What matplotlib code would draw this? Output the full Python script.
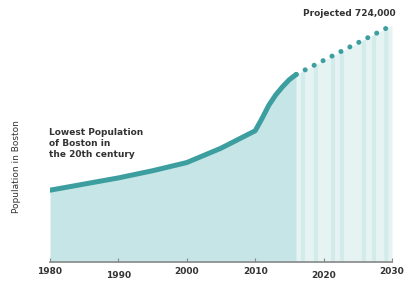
import numpy as np
import matplotlib.pyplot as plt

# Boston population (thousands)
years = [1980, 1985, 1990, 1995, 2000, 2005, 2010, 2011, 2012, 2013, 2014, 2015, 2016]
population = [563, 569, 575, 582, 590, 604, 621, 633, 646, 656, 664, 671, 676]

proj_years = [2016, 2030]
proj_population = [676, 724]

tick_years = [1980, 1990, 2000, 2010, 2020, 2030]
stripe_years = [2016.6, 2018.5, 2021, 2022.3, 2025.5, 2027, 2028.8]

line_color = '#3d9e9f'
fill_color = '#c6e5e6'
text_color = '#333333'


def main():
    fig = plt.figure(figsize=(4.1, 2.81), dpi=100)
    ax = fig.add_axes([0.122, 0.068, 0.834, 0.893])

    ax.fill_between(years, population, 493, color=fill_color, lw=0, zorder=1)
    ax.fill_between(proj_years, proj_population, 493, color='#e6f3f3', lw=0, zorder=1)
    for y in stripe_years:
        xs = [y, y + 0.6]
        ax.fill_between(xs, np.interp(xs, proj_years, proj_population), 493,
                        color='#d3ebeb', lw=0, zorder=1.5)

    ax.plot(years, population, color=line_color, lw=3.6, solid_capstyle='round',
            solid_joinstyle='round', zorder=3)
    ax.plot(proj_years, proj_population, color=line_color, lw=3.6,
            linestyle=(0, (0.01, 2.0)), dash_capstyle='round', zorder=3)

    ax.set_xlim(1980, 2030)
    ax.set_ylim(493, 738)

    for side in ['top', 'right', 'left']:
        ax.spines[side].set_visible(False)
    ax.spines['bottom'].set_color('#888888')
    ax.spines['bottom'].set_linewidth(1.2)
    ax.set_yticks([])
    ax.set_xticks(tick_years)
    ax.set_xticklabels([str(y) for y in tick_years], fontsize=6.5,
                       fontweight='bold', color=text_color)
    ax.tick_params(axis='x', direction='in', length=3, color='#888888', pad=4)
    for i in [1, 4]:
        ax.xaxis.get_major_ticks()[i].set_pad(6.5)

    ax.set_ylabel('Population in Boston', fontsize=6.5, color=text_color)
    ax.yaxis.set_label_coords(-0.085, 0.38)

    ax.text(1979.8, 624, 'Lowest Population\nof Boston in\nthe 20th century',
            fontsize=6.5, fontweight='bold', color=text_color, va='top',
            linespacing=1.3, zorder=4)
    ax.text(2030.5, 731, 'Projected 724,000', fontsize=6.5, fontweight='bold',
            color=text_color, ha='right', va='bottom', zorder=4)

    fig.savefig('out.png', dpi=100)
    plt.close(fig)


if __name__ == '__main__':
    main()
